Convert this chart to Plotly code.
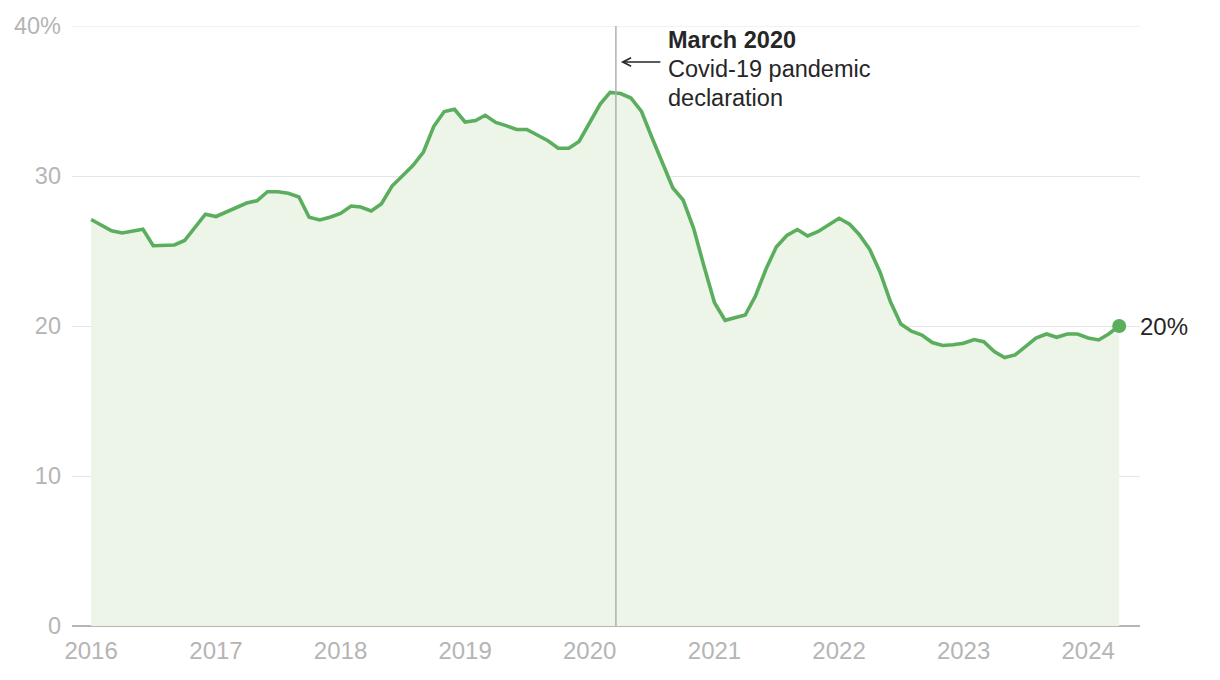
import plotly.graph_objects as go
import pandas as pd

# Monthly series, Jan 2016 - Apr 2024 (percent)
start_month = "2016-01-01"
values = [
    27.1, 26.7, 26.35, 26.2, 26.35, 26.45, 25.35, 25.4, 25.4, 25.7, 26.6, 27.45,
    27.3, 27.6, 27.9, 28.2, 28.35, 28.95, 28.95, 28.85, 28.6, 27.25, 27.07, 27.25,
    27.5, 28.0, 27.93, 27.67, 28.15, 29.33, 30.0, 30.7, 31.6, 33.3, 34.3, 34.45,
    33.6, 33.7, 34.05, 33.57, 33.36, 33.1, 33.1, 32.73, 32.35, 31.85, 31.85, 32.3,
    33.57, 34.8, 35.57, 35.5, 35.2, 34.3, 32.6, 30.95, 29.2, 28.4, 26.5, 24.0,
    21.55, 20.38, 20.57, 20.73, 22.0, 23.8, 25.27, 26.03, 26.43, 26.0, 26.3, 26.73,
    27.18, 26.78, 26.1, 25.1, 23.6, 21.6, 20.13, 19.65, 19.4, 18.9, 18.7, 18.75,
    18.85, 19.1, 18.95, 18.3, 17.9, 18.07, 18.6, 19.2, 19.47, 19.25, 19.47, 19.47,
    19.2, 19.07, 19.47, 20.0,
]
dates = pd.date_range(start_month, periods=len(values), freq="MS")

year_ticks = [f"{y}-01-01" for y in range(2016, 2025)]
year_labels = [str(y) for y in range(2016, 2025)]
y_ticks = [0, 10, 20, 30, 40]
y_labels = ["0", "10", "20", "30", "40%"]

event_date = "2020-03-18"
event_lines = ["<b>March 2020</b>", "Covid-19 pandemic", "declaration"]
end_label = "20%"

GREEN = "#5aae5e"
FILL = "rgba(236,245,232,1)"
TICK = "#b5b5b5"
DARK = "#262626"
GRID = "#e6e6e6"
FONT = "Liberation Sans, Arial, sans-serif"

fig = go.Figure()
fig.add_trace(go.Scatter(
    x=dates, y=values, mode="lines",
    line=dict(color=GREEN, width=3.6),
    fill="tozeroy", fillcolor=FILL,
    hoverinfo="skip", showlegend=False,
))
fig.add_trace(go.Scatter(
    x=[dates[-1]], y=[values[-1]], mode="markers",
    marker=dict(color=GREEN, size=14),
    hoverinfo="skip", showlegend=False,
))

# top gridline (at the range edge)
fig.add_shape(type="line", xref="paper", yref="y", x0=0, x1=1, y0=40, y1=40,
              line=dict(color=GRID, width=1.2), layer="below")

# event vertical line
fig.add_shape(type="line", xref="x", yref="paper",
              x0=event_date, x1=event_date, y0=0, y1=1,
              line=dict(color="#b0b0b0", width=1.5), layer="above")

# arrow
fig.add_annotation(x=event_date, y=37.6, xref="x", yref="y",
                   xshift=5, ax=41, ay=0, showarrow=True,
                   arrowhead=5, arrowsize=1.1, arrowwidth=1.5,
                   arrowcolor=DARK, text="")
# event text, one annotation per line
line_y = [39.07, 37.13, 35.2]
for txt, yy in zip(event_lines, line_y):
    fig.add_annotation(x=event_date, y=yy, xref="x", yref="y",
                       xshift=50, xanchor="left", yanchor="middle",
                       align="left", showarrow=False, text=txt,
                       font=dict(family=FONT, size=23.5, color=DARK))
# end label
fig.add_annotation(x=dates[-1], y=values[-1], xref="x", yref="y",
                   xshift=19, xanchor="left", yanchor="middle",
                   showarrow=False, text=end_label,
                   font=dict(family=FONT, size=24, color=DARK))

fig.update_layout(
    width=1204, height=664,
    margin=dict(l=64, r=72, t=18, b=46),
    paper_bgcolor="white", plot_bgcolor="white",
    font=dict(family=FONT, size=22, color=TICK),
    xaxis=dict(
        type="date",
        range=["2015-11-06", "2024-06-01"],
        tickvals=year_ticks, ticktext=year_labels,
        showgrid=False, zeroline=False, showline=False,
        ticks="", ticklabelstandoff=8, automargin=False,
        tickfont=dict(family=FONT, size=24, color=TICK),
    ),
    yaxis=dict(
        range=[0, 40],
        tickvals=y_ticks, ticktext=y_labels,
        showgrid=True, gridcolor=GRID, gridwidth=1.2,
        zeroline=True, zerolinecolor="#b5b5b5", zerolinewidth=2,
        showline=False, ticks="", ticklabelstandoff=10, automargin=False,
        tickfont=dict(family=FONT, size=23.5, color=TICK),
    ),
)

fig.write_html("out.html")
